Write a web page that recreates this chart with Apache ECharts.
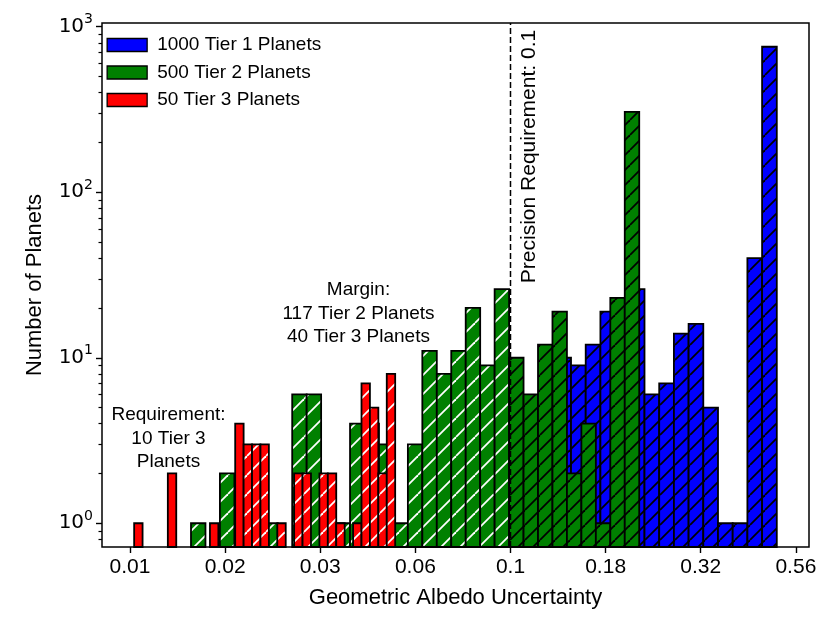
<!DOCTYPE html>
<html><head><meta charset="utf-8">
<script src="https://cdn.jsdelivr.net/npm/echarts@6/dist/echarts.min.js"></script>
<style>html,body{margin:0;padding:0;background:#fff}#c{width:830px;height:623px}</style>
</head><body><div id="c"></div>
<script>
// ---------------- data ----------------
const seriesNames = ['1000 Tier 1 Planets', '500 Tier 2 Planets', '50 Tier 3 Planets'];
// histogram bins are equal-width in log10(uncertainty)
const tier1LogBinStart = -0.8796, tier1LogBinWidth = 0.03863;
const tier1Counts = [10, 9, 12, 19, 21, 26, 6, 7, 14, 16, 5, 1, 1, 40, 757];
const tier2LogBinStart = -1.8397, tier2LogBinWidth = 0.0380;
const tier2Counts = [1, 0, 2, 0, 0, 1, 0, 6, 6, 0, 1, 4, 4, 3, 1, 3, 11, 8, 11, 20, 9, 26, 10, 6, 12, 19, 2, 4, 1, 23, 306];
const tier3LogBinStart = -1.9891, tier3LogBinWidth = 0.02213;
const tier3Counts = [1, 0, 0, 0, 2, 0, 0, 0, 0, 1, 0, 0, 4, 3, 3, 3, 0, 1, 0, 2, 2, 0, 2, 2, 1, 0, 1, 7, 5, 2, 8];
const precisionRequirement = 0.1;
const tierRequirement = [0.001, 0.01, 0.02];
const xTickExponents = [-2, -1.75, -1.5, -1.25, -1, -0.75, -0.5, -0.25];
const xTickLabels = ['0.01', '0.02', '0.03', '0.06', '0.1', '0.18', '0.32', '0.56'];
const yTickExponents = [0, 1, 2, 3];
const annotationRequirement = 'Requirement:\n10 Tier 3\nPlanets';
const annotationMargin = 'Margin:\n117 Tier 2 Planets\n40 Tier 3 Planets';
const annotationPrecision = 'Precision Requirement: 0.1';

// ---------------- view ----------------
const FONT = '"Liberation Sans", Arial, Helvetica, sans-serif';
const X_MIN = -2.0736, X_MAX = -0.2155;
const Y_MIN = -0.1434, Y_MAX = 3.0225;
const colors = ['#0000ff', '#008000', '#ff0000'];

function hatchPattern(color, period, lw) {
  const cv = document.createElement('canvas');
  cv.width = period; cv.height = period;
  const ctx = cv.getContext('2d');
  ctx.strokeStyle = color; ctx.lineWidth = lw;
  for (let k = -1; k <= 1; k++) {
    ctx.beginPath();
    ctx.moveTo(k * period, period);
    ctx.lineTo(k * period + period, 0);
    ctx.stroke();
  }
  return { image: cv, repeat: 'repeat' };
}
const blackHatch = hatchPattern('#000', 15, 1.8);
const whiteHatch = hatchPattern('#fff', 19, 1.8);

function barSeries(idx, logStart, logWidth, counts, z) {
  const req = Math.log10(tierRequirement[idx]);
  const prec = Math.log10(precisionRequirement);
  const data = [];
  counts.forEach((c, i) => {
    if (c > 0) data.push([logStart + i * logWidth, logStart + (i + 1) * logWidth, c]);
  });
  return {
    type: 'custom', name: seriesNames[idx], z: z,
    itemStyle: { color: colors[idx] },
    encode: { x: [0, 1], y: 2 },
    data: data,
    silent: true,
    renderItem(params, api) {
      const x0 = api.value(0), x1 = api.value(1), c = api.value(2);
      const pTop = api.coord([x0, Math.log10(c)]);
      const pBot = api.coord([x1, Y_MIN]);
      const shape = { x: pTop[0], y: pTop[1], width: pBot[0] - pTop[0], height: pBot[1] - pTop[1] };
      const center = (x0 + x1) / 2;
      let hatch = null;
      if (center > prec) hatch = blackHatch;
      else if (center > req) hatch = whiteHatch;
      const children = [{ type: 'rect', shape: shape, style: { fill: colors[idx], stroke: 'none' } }];
      if (hatch) children.push({ type: 'rect', shape: shape, style: { fill: hatch, stroke: 'none' } });
      children.push({ type: 'rect', shape: shape, style: { fill: 'none', stroke: '#000', lineWidth: 1.8 } });
      return { type: 'group', children: children };
    }
  };
}

const minorY = [];
for (let k = -1; k <= 2; k++) for (let m = 2; m <= 9; m++) {
  const v = Math.log10(m) + k;
  if (v > Y_MIN && v < Y_MAX) minorY.push(v);
}

const chart = echarts.init(document.getElementById('c'), null, { renderer: 'canvas' });
chart.setOption({
  animation: false,
  backgroundColor: '#fff',
  grid: { left: 102, right: 21, top: 23, bottom: 76, show: true, borderColor: '#000', borderWidth: 1.5, backgroundColor: 'transparent' },
  legend: {
    data: seriesNames, orient: 'vertical', left: 106.5, top: 35.5, padding: 0,
    itemWidth: 40, itemHeight: 13, itemGap: 8.5, icon: 'rect', selectedMode: false,
    itemStyle: { borderColor: '#000', borderWidth: 1.3 },
    textStyle: { fontSize: 19, lineHeight: 19, fontFamily: FONT, color: '#000', padding: [0, 0, 0, 5] }
  },
  xAxis: {
    type: 'value', min: X_MIN, max: X_MAX,
    name: 'Geometric Albedo Uncertainty', nameLocation: 'middle', nameGap: 40,
    nameTextStyle: { fontSize: 22, fontFamily: FONT, color: '#000' },
    axisLine: { show: false, onZero: false },
    splitLine: { show: false },
    axisTick: { show: true, customValues: xTickExponents, length: 6, lineStyle: { color: '#000', width: 1.4 } },
    axisLabel: {
      customValues: xTickExponents, margin: 10, fontSize: 21, fontFamily: FONT, color: '#000',
      formatter: (v) => {
        const i = xTickExponents.findIndex(e => Math.abs(e - v) < 1e-6);
        return i >= 0 ? xTickLabels[i] : '';
      }
    }
  },
  yAxis: [{
    type: 'value', min: Y_MIN, max: Y_MAX,
    name: 'Number of Planets', nameLocation: 'middle', nameGap: 56,
    nameTextStyle: { fontSize: 22, fontFamily: FONT, color: '#000' },
    axisLine: { show: false, onZero: false },
    splitLine: { show: false },
    axisTick: { show: true, customValues: yTickExponents, length: 6, lineStyle: { color: '#000', width: 1.4 } },
    axisLabel: {
      customValues: yTickExponents, margin: 9, color: '#000',
      formatter: (v) => '{b|10}{s|' + Math.round(v) + '}',
      rich: {
        b: { fontSize: 20, lineHeight: 28, fontFamily: '"DejaVu Sans", sans-serif', color: '#000' },
        s: { fontSize: 14, lineHeight: 14, verticalAlign: 'top', fontFamily: '"DejaVu Sans", sans-serif', color: '#000' }
      }
    }
  }, {
    type: 'value', min: Y_MIN, max: Y_MAX, position: 'left',
    axisLine: { show: false, onZero: false }, splitLine: { show: false }, axisLabel: { show: false },
    axisTick: { show: true, customValues: minorY, length: 3.5, lineStyle: { color: '#000', width: 1.2 } }
  }],
  series: [
    barSeries(0, tier1LogBinStart, tier1LogBinWidth, tier1Counts, -3),
    barSeries(1, tier2LogBinStart, tier2LogBinWidth, tier2Counts, -2),
    barSeries(2, tier3LogBinStart, tier3LogBinWidth, tier3Counts, -1),
    {
      type: 'custom', name: 'precision', z: 5, silent: true,
      data: [[Math.log10(precisionRequirement), 0]],
      encode: { x: 0, y: 1 },
      renderItem(params, api) {
        const a = api.coord([api.value(0), Y_MIN]);
        const b = api.coord([api.value(0), Y_MAX]);
        return { type: 'line', shape: { x1: a[0], y1: a[1], x2: b[0], y2: b[1] },
          style: { stroke: '#000', lineWidth: 1.5, lineDash: [6, 3] } };
      }
    }
  ],
  graphic: [
    { type: 'text', x: 168.5, y: 438.5, style: { text: annotationRequirement, textAlign: 'center', textVerticalAlign: 'middle', fontSize: 19, lineHeight: 23.5, fontFamily: FONT, fill: '#000' } },
    { type: 'text', x: 358.5, y: 313.5, style: { text: annotationMargin, textAlign: 'center', textVerticalAlign: 'middle', fontSize: 19, lineHeight: 23.5, fontFamily: FONT, fill: '#000' } },
    { type: 'text', x: 529, y: 156.5, rotation: Math.PI / 2, style: { text: annotationPrecision, textAlign: 'center', textVerticalAlign: 'middle', fontSize: 21, fontFamily: FONT, fill: '#000' } }
  ]
});
</script>
</body></html>
